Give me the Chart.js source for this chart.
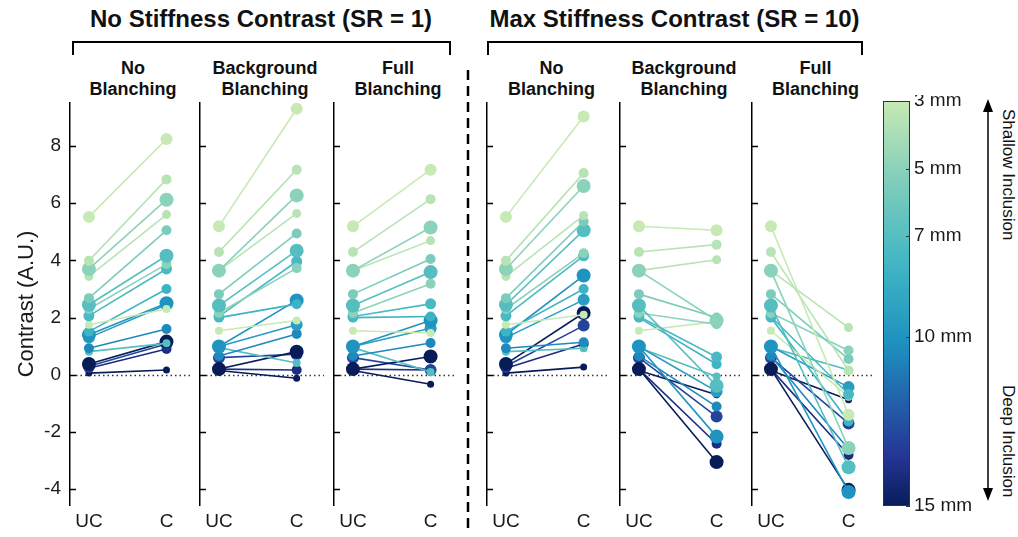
<!DOCTYPE html>
<html>
<head>
<meta charset="utf-8">
<script src="https://cdn.jsdelivr.net/npm/chart.js@4.4.1/dist/chart.umd.min.js"></script>
<style>
body { margin:0; width:1018px; height:537px; position:relative; background:#fff; overflow:hidden;
       font-family:"Liberation Sans", Arial, sans-serif; color:#111; }
canvas { position:absolute; }
.grp { position:absolute; top:5px; font-weight:bold; font-size:24px; text-align:center; white-space:nowrap; }
.sub { position:absolute; top:58px; font-weight:bold; font-size:18px; text-align:center; line-height:21px; white-space:nowrap; }
.side { position:absolute; writing-mode:vertical-rl; font-size:17px; white-space:nowrap; }
svg { position:absolute; left:0; top:0; }
</style>
</head>
<body>
<div class="grp" style="left:72px;width:378px">No Stiffness Contrast (SR = 1)</div>
<div class="grp" style="left:487px;width:375px">Max Stiffness Contrast (SR = 10)</div>
<div id="subs"></div>
<svg width="1018" height="537">
  <path d="M73 55 V42 H450 V55" fill="none" stroke="#000" stroke-width="2"/>
  <path d="M488 55 V42 H862 V55" fill="none" stroke="#000" stroke-width="2"/>
  <line x1="468" y1="70" x2="468" y2="532" stroke="#000" stroke-width="2.5" stroke-dasharray="10 6"/>
  <line x1="988" y1="110" x2="988" y2="490" stroke="#000" stroke-width="1.5"/>
  <path d="M983 112 L988 99 L993 112 Z" fill="#000"/>
  <path d="M983 488 L988 501 L993 488 Z" fill="#000"/>
</svg>
<div class="side" style="left:998px;top:109px">Shallow Inclusion</div>
<div class="side" style="left:998px;top:385px">Deep Inclusion</div>

<canvas id="p0"></canvas><canvas id="p1"></canvas><canvas id="p2"></canvas>
<canvas id="p3"></canvas><canvas id="p4"></canvas><canvas id="p5"></canvas>
<canvas id="cbar"></canvas>

<script>
// panel headings
const panelTitles = ['No|Blanching', 'Background|Blanching', 'Full|Blanching', 'No|Blanching', 'Background|Blanching', 'Full|Blanching'];
const xLabels = ['UC', 'C'];
const yTicks = [-4, -2, 0, 2, 4, 6, 8];
const depthTicks = [3, 5, 7, 10, 15];

// one entry per inclusion: depth (mm) and marker size
const depthMM = [3, 3.5, 5, 3.5, 5.5, 7, 5, 7.5, 3, 8, 10, 9.5, 10.5, 7, 15, 13, 14, 15];
const markerSize = [6, 5, 7, 4.5, 5, 7, 5, 5.5, 4, 5, 7, 6, 5, 4, 7, 6, 5, 3.5];

// UC contrast (unconstrained)
const ucNoBlanch = [5.52, 3.99, 3.70, 3.44, 2.68, 2.45, 2.30, 2.06, 1.75, 1.51, 1.40, 1.30, 0.93, 0.81, 0.38, 0.30, 0.23, 0.06];
const ucBlanch = [5.19, 4.29, 3.64, 3.64, 2.82, 2.42, 2.16, 2.04, 1.54, 2.00, 0.99, 0.99, 0.66, 0.95, 0.20, 0.60, 0.20, 0.15];

// C contrast per panel
const cSR1None = [8.24, 6.83, 6.12, 5.60, 5.05, 4.16, 3.87, 3.70, 2.30, 3.00, 2.50, 2.45, 1.60, 1.10, 1.16, 1.08, 0.90, 0.17];
const cSR1Bg = [9.30, 7.17, 6.27, 5.64, 4.94, 4.34, 3.73, 3.96, 1.90, 2.47, 2.60, 1.75, 1.43, 0.41, 0.81, 0.72, 0.17, -0.12];
const cSR1Full = [7.17, 6.14, 5.15, 4.69, 4.05, 3.59, 3.18, 2.48, 1.46, 2.04, 1.90, 1.63, 1.11, 0.10, 0.64, 0.17, 0.17, -0.33];
const cSR10None = [9.03, 7.05, 6.60, 5.57, 5.36, 5.05, 4.25, 4.16, 2.10, 3.00, 3.47, 2.62, 1.14, 0.93, 2.16, 1.72, 1.08, 0.27];
const cSR10Bg = [5.05, 4.55, 1.90, 4.02, 2.00, -0.38, 1.77, 0.62, 1.86, 0.37, -2.16, -0.58, -1.11, -0.06, -3.05, -1.46, -2.41, -0.70];
const cSR10Full = [-1.40, 0.15, -2.56, 1.65, 0.55, -3.23, 0.85, -0.68, -0.77, -1.63, -4.10, -0.43, -2.60, 0.17, -4.02, -1.70, -2.80, -0.87];

const ucSets = [ucNoBlanch, ucBlanch, ucBlanch, ucNoBlanch, ucBlanch, ucBlanch];
const cSets = [cSR1None, cSR1Bg, cSR1Full, cSR10None, cSR10Bg, cSR10Full];

// layout
const axisX = [70, 200, 334, 487, 620, 752];
const panelW = [130, 134, 132, 133, 132, 131];
const pxPerUnit = 82, ucOffset = 20, leftPad = 16;
const canvasTop = 95, canvasH = 442;

Chart.defaults.font.family = '"Liberation Sans", Arial, sans-serif';
Chart.defaults.color = '#1a1a1a';

// YlGnBu-like colormap, 3 mm -> 15 mm
const cmap = [[0, [199, 233, 180]], [0.2, [127, 205, 187]], [0.4, [65, 182, 196]],
              [0.6, [29, 145, 192]], [0.75, [34, 94, 168]], [0.88, [37, 52, 148]], [1, [8, 29, 88]]];
function depthColor(d) {
    const t = Math.min(1, Math.max(0, (d - 3) / 12));
    for (let i = 1; i < cmap.length; i++) {
        if (t <= cmap[i][0]) {
            const [t0, c0] = cmap[i - 1], [t1, c1] = cmap[i];
            const f = (t - t0) / (t1 - t0);
            const c = c0.map((v, k) => Math.round(v + (c1[k] - v) * f));
            return `rgb(${c[0]},${c[1]},${c[2]})`;
        }
    }
}

function noPad(s) { s.paddingLeft = 0; s.paddingRight = 0; s.paddingTop = 0; s.paddingBottom = 0; }

// headings
const subs = document.getElementById('subs');
panelTitles.forEach((t, i) => {
    const d = document.createElement('div');
    d.className = 'sub';
    d.style.left = (axisX[i] - 4) + 'px';
    d.style.width = (panelW[i] + 4) + 'px';
    d.innerHTML = t.split('|').join('<br>');
    subs.appendChild(d);
});

// inward ticks + dotted zero line
const decor = {
    id: 'decor',
    beforeDatasetsDraw(chart) {
        const { ctx, chartArea: a, scales: { y } } = chart;
        ctx.save();
        ctx.strokeStyle = '#000';
        ctx.lineWidth = 1.5;
        y.ticks.forEach(t => {
            const py = Math.round(y.getPixelForValue(t.value)) + 0.5;
            ctx.beginPath(); ctx.moveTo(a.left, py); ctx.lineTo(a.left + 6, py); ctx.stroke();
        });
        const z = Math.round(y.getPixelForValue(0)) + 0.5;
        ctx.setLineDash([1.5, 3]);
        ctx.lineWidth = 1.3;
        ctx.strokeStyle = '#333';
        ctx.beginPath(); ctx.moveTo(a.left + 6, z); ctx.lineTo(a.right - 3, z); ctx.stroke();
        ctx.restore();
    }
};

function makePanel(i) {
    const showY = i === 0;
    const cv = document.getElementById('p' + i);
    const left = showY ? 0 : axisX[i] - leftPad;
    const w = showY ? axisX[i] + panelW[i] : panelW[i] + leftPad;
    cv.style.left = left + 'px';
    cv.style.top = canvasTop + 'px';
    cv.style.width = w + 'px';
    cv.style.height = canvasH + 'px';
    cv.width = w; cv.height = canvasH;

    const xMin = 1 - ucOffset / pxPerUnit;
    const datasets = depthMM.map((d, k) => ({
        data: [{ x: 1, y: ucSets[i][k] }, { x: 2, y: cSets[i][k] }],
        borderColor: depthColor(d),
        backgroundColor: depthColor(d),
        pointRadius: markerSize[k],
        pointBorderWidth: 0,
        borderWidth: 1.6,
        clip: false
    }));

    new Chart(cv, {
        type: 'line',
        data: { datasets },
        plugins: [decor],
        options: {
            responsive: false,
            animation: false,
            events: [],
            layout: { padding: { top: 8, left: showY ? 10 : leftPad, right: 0, bottom: 0 } },
            plugins: { legend: { display: false }, tooltip: { enabled: false } },
            scales: {
                x: {
                    type: 'linear',
                    min: xMin,
                    max: xMin + panelW[i] / pxPerUnit,
                    afterBuildTicks: s => { s.ticks = [{ value: 1 }, { value: 2 }]; },
                    afterFit: s => { s.height = 32; noPad(s); },
                    ticks: { callback: v => xLabels[v - 1], font: { size: 19 }, padding: 5, maxRotation: 0 },
                    grid: { display: false, drawTicks: false },
                    border: { display: false }
                },
                y: {
                    min: -4.55,
                    max: 9.5,
                    afterBuildTicks: s => { s.ticks = yTicks.map(v => ({ value: v })); },
                    afterFit: s => { s.width = showY ? 60 : 0; noPad(s); },
                    ticks: { display: showY, font: { size: 19 }, padding: 9 },
                    grid: { display: false, drawTicks: false },
                    border: { display: true, color: '#000', width: 1.5 },
                    title: { display: showY, text: 'Contrast (A.U.)', font: { size: 22 }, padding: 4 }
                }
            }
        }
    });
}
for (let i = 0; i < 6; i++) makePanel(i);

// colorbar
const cb = document.getElementById('cbar');
cb.style.left = '883px'; cb.style.top = canvasTop + 'px';
cb.width = 95; cb.height = 417;
cb.style.width = '95px'; cb.style.height = '417px';

const cbarFrame = {
    id: 'cbarFrame',
    afterDatasetsDraw(chart) {
        const { ctx, chartArea: a, scales: { y } } = chart;
        ctx.save();
        ctx.strokeStyle = '#333';
        ctx.lineWidth = 1;
        ctx.strokeRect(a.left + 0.5, a.top + 0.5, a.right - a.left - 1, a.bottom - a.top - 1);
        y.ticks.forEach(t => {
            const py = Math.round(y.getPixelForValue(t.value)) + 0.5;
            ctx.beginPath(); ctx.moveTo(a.right - 4, py); ctx.lineTo(a.right, py); ctx.stroke();
        });
        ctx.restore();
    }
};

new Chart(cb, {
    type: 'bar',
    data: {
        labels: ['depth'],
        datasets: [{
            data: [[depthTicks[0], depthTicks[depthTicks.length - 1]]],
            barPercentage: 1,
            categoryPercentage: 1,
            borderWidth: 0,
            backgroundColor: c => {
                const a = c.chart.chartArea;
                if (!a) return '#ccc';
                const g = c.chart.ctx.createLinearGradient(0, a.top, 0, a.bottom);
                for (let k = 0; k <= 24; k++) g.addColorStop(k / 24, depthColor(3 + k * 0.5));
                return g;
            }
        }]
    },
    plugins: [cbarFrame],
    options: {
        responsive: false,
        animation: false,
        events: [],
        layout: { padding: { top: 6, bottom: 6, left: 0, right: 0 } },
        plugins: { legend: { display: false }, tooltip: { enabled: false } },
        scales: {
            x: { display: false, afterFit: noPad },
            y: {
                position: 'right',
                reverse: true,
                min: 3,
                max: 15,
                afterBuildTicks: s => { s.ticks = depthTicks.map(v => ({ value: v })); },
                afterFit: s => { s.width = 68; noPad(s); },
                ticks: { callback: v => v + ' mm', font: { size: 19 }, padding: 4 },
                grid: { display: false, drawTicks: false },
                border: { display: false }
            }
        }
    }
});
</script>
</body>
</html>
